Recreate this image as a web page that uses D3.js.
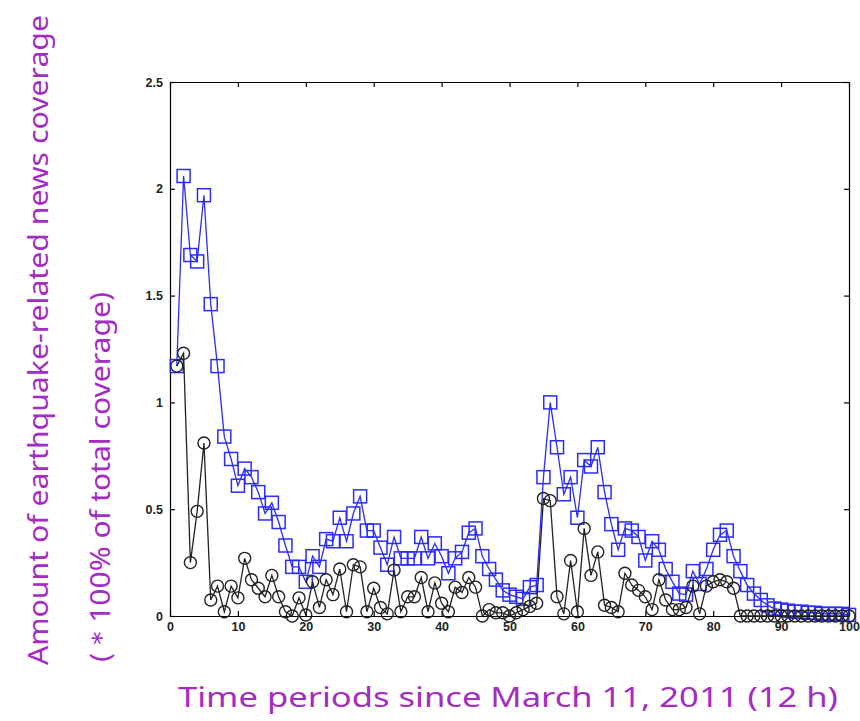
<!DOCTYPE html>
<html lang="en">
<head>
<meta charset="utf-8">
<script src="https://d3js.org/d3.v7.min.js"></script>
<style type="text/css">
body {
  margin: 0;
  background: #fff;
}
.axis text {
  font: bold 12.5px "Liberation Sans Narrow", "Liberation Sans", sans-serif;
  fill: #222;
}
.axis path,
.axis line {
  fill: none;
  stroke: #000;
  stroke-width: 1.2;
}
.label {
  font-family: "Noto Sans", sans-serif;
  font-size: 27px;
  fill: #a32cc4;
}
</style>
<title>Earthquake-related news coverage</title>
</head>
<body>
<script type="text/javascript">
// values, index = time period 1..100
var periods = d3.range(1, 101);
var blueValues = [
  1.17, 2.06, 1.69, 1.66, 1.97, 1.46, 1.17, 0.84, 0.735, 0.61,
  0.69, 0.65, 0.58, 0.48, 0.53, 0.44, 0.33, 0.23, 0.23, 0.16,
  0.28, 0.23, 0.36, 0.35, 0.46, 0.35, 0.48, 0.56, 0.40, 0.40,
  0.32, 0.24, 0.37, 0.27, 0.27, 0.27, 0.37, 0.27, 0.34, 0.28,
  0.20, 0.27, 0.30, 0.39, 0.41, 0.28, 0.22, 0.17, 0.12, 0.10,
  0.09, 0.08, 0.135, 0.145, 0.65, 1.00, 0.79, 0.57, 0.65, 0.46,
  0.73, 0.70, 0.79, 0.58, 0.43, 0.31, 0.41, 0.40, 0.37, 0.26,
  0.35, 0.31, 0.22, 0.16, 0.105, 0.10, 0.21, 0.15, 0.22, 0.31,
  0.38, 0.40, 0.28, 0.21, 0.145, 0.105, 0.075, 0.05, 0.035, 0.03,
  0.025, 0.02, 0.02, 0.015, 0.015, 0.01, 0.01, 0.01, 0.01, 0.005
];
var blackValues = [
  1.17, 1.23, 0.25, 0.49, 0.81, 0.075, 0.14, 0.02, 0.14, 0.085,
  0.27, 0.17, 0.13, 0.09, 0.19, 0.09, 0.02, 0.00, 0.085, 0.005,
  0.16, 0.04, 0.17, 0.10, 0.22, 0.02, 0.24, 0.23, 0.02, 0.13,
  0.04, 0.01, 0.215, 0.02, 0.09, 0.09, 0.18, 0.02, 0.155, 0.06,
  0.02, 0.135, 0.11, 0.18, 0.135, 0.0, 0.03, 0.015, 0.015, 0.0,
  0.015, 0.03, 0.045, 0.06, 0.55, 0.54, 0.09, 0.01, 0.26, 0.02,
  0.41, 0.19, 0.30, 0.05, 0.04, 0.02, 0.20, 0.145, 0.12, 0.09,
  0.03, 0.17, 0.075, 0.03, 0.03, 0.04, 0.14, 0.01, 0.14, 0.16,
  0.17, 0.16, 0.13, 0.0, 0.0, 0.0, 0.0, 0.0, 0.0, 0.0,
  0.0, 0.0, 0.0, 0.0, 0.0, 0.0, 0.0, 0.0, 0.0, 0.0
];
var xTicks = [0, 10, 20, 30, 40, 50, 60, 70, 80, 90, 100];
var yTicks = [0, 0.5, 1, 1.5, 2, 2.5];
var yTickLabels = ["0", "0.5", "1", "1.5", "2", "2.5"];
var yLabel1 = "Amount of earthquake-related news coverage";
var yLabel2 = "(\uFF0A100% of total coverage)";
var xLabel = "Time periods since March 11, 2011 (12 h)";

var margin = {top: 82, right: 11, bottom: 105, left: 170},
    width = 860 - margin.left - margin.right,
    height = 721 - margin.top - margin.bottom;

var x = d3.scaleLinear().domain([0, 100]).range([0, width]);
var y = d3.scaleLinear().domain([0, 2.5]).range([height, 0]);

var svg = d3.select("body").append("svg")
    .attr("width", 860)
    .attr("height", 721);

var g = svg.append("g")
    .attr("transform", "translate(" + margin.left + "," + margin.top + ")");

// box + inward ticks on all four sides
g.append("g")
  .attr("class", "axis")
  .attr("transform", "translate(0," + height + ")")
  .call(d3.axisBottom(x).tickValues(xTicks).tickFormat(d3.format("d"))
    .tickSizeInner(-5).tickSizeOuter(0).tickPadding(6));

g.append("g")
  .attr("class", "axis")
  .call(d3.axisLeft(y).tickValues(yTicks)
    .tickFormat(function(d, i) { return yTickLabels[i]; })
    .tickSizeInner(-5).tickSizeOuter(0).tickPadding(7));

g.append("g")
  .attr("class", "axis")
  .call(d3.axisTop(x).tickValues(xTicks).tickFormat("")
    .tickSizeInner(-5).tickSizeOuter(0));

g.append("g")
  .attr("class", "axis")
  .attr("transform", "translate(" + width + ",0)")
  .call(d3.axisRight(y).tickValues(yTicks).tickFormat("")
    .tickSizeInner(-5).tickSizeOuter(0));

var blueData = periods.map(function(p, i) { return [p, blueValues[i]]; });
var blackData = periods.map(function(p, i) { return [p, blackValues[i]]; });

var line = d3.line()
    .x(function(d) { return x(d[0]); })
    .y(function(d) { return y(d[1]); });

// blue series: line + open squares
g.append("path")
  .datum(blueData)
  .attr("d", line)
  .attr("fill", "none")
  .attr("stroke", "#2b2bff")
  .attr("stroke-width", 1.3);

g.append("g").selectAll("rect")
  .data(blueData)
  .enter()
  .append("rect")
    .attr("x", function(d) { return x(d[0]) - 6.5; })
    .attr("y", function(d) { return y(d[1]) - 6.5; })
    .attr("width", 13)
    .attr("height", 13)
    .attr("fill", "none")
    .attr("stroke", "#2b2bff")
    .attr("stroke-width", 1.5);

// black series: line + open circles
g.append("path")
  .datum(blackData)
  .attr("d", line)
  .attr("fill", "none")
  .attr("stroke", "#222")
  .attr("stroke-width", 1.3);

g.append("g").selectAll("circle")
  .data(blackData)
  .enter()
  .append("circle")
    .attr("cx", function(d) { return x(d[0]); })
    .attr("cy", function(d) { return y(d[1]); })
    .attr("r", 6)
    .attr("fill", "none")
    .attr("stroke", "#222")
    .attr("stroke-width", 1.4);

// axis titles
svg.append("text")
  .attr("class", "label")
  .attr("transform", "translate(48,665) rotate(-90)")
  .attr("textLength", 650)
  .attr("lengthAdjust", "spacingAndGlyphs")
  .text(yLabel1);

svg.append("text")
  .attr("class", "label")
  .attr("transform", "translate(110,662) rotate(-90)")
  .attr("textLength", 370)
  .attr("lengthAdjust", "spacingAndGlyphs")
  .text(yLabel2);

svg.append("text")
  .attr("class", "label")
  .attr("x", 178)
  .attr("y", 707)
  .attr("textLength", 660)
  .attr("lengthAdjust", "spacingAndGlyphs")
  .text(xLabel);
</script>
</body>
</html>
